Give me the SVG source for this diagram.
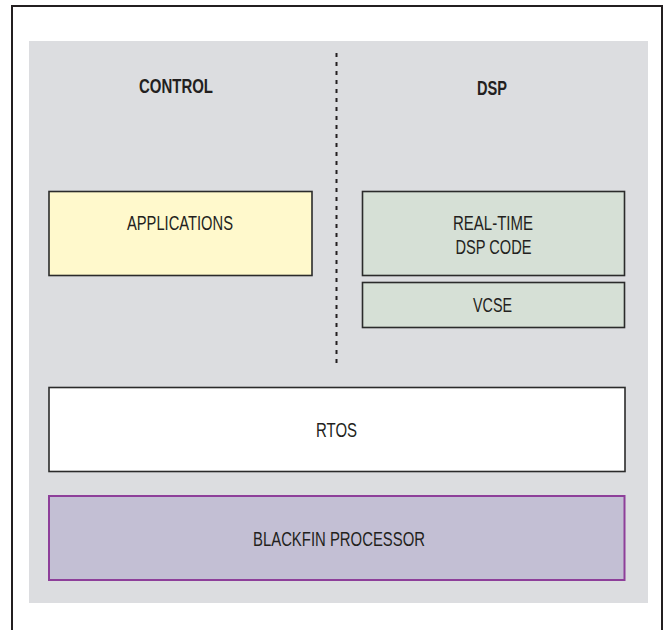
<svg xmlns="http://www.w3.org/2000/svg" width="668" height="630" viewBox="0 0 668 630">
  <style>
    .lbl { font-family: "Liberation Sans Narrow", "Liberation Sans", Arial, sans-serif; font-size: 20px; fill: #231f20; text-anchor: middle; }
    .hdr { font-weight: bold; }
    .box { stroke: #2b2b2b; stroke-width: 1.6; }
  </style>
  <rect x="0" y="0" width="668" height="630" fill="#ffffff"/>
  <rect x="12" y="6" width="650" height="640" fill="#ffffff" stroke="#231f20" stroke-width="2"/>
  <rect x="29" y="41" width="619" height="562" fill="#dcdde0"/>

  <g id="connectors">
    <line x1="336.5" y1="53" x2="336.5" y2="368" stroke="#231f20" stroke-width="2" stroke-dasharray="4 5"/>
  </g>

  <g id="control-header">
    <text class="lbl hdr" x="176" y="93" textLength="74" lengthAdjust="spacingAndGlyphs">CONTROL</text>
  </g>
  <g id="dsp-header">
    <text class="lbl hdr" x="492" y="95" textLength="30" lengthAdjust="spacingAndGlyphs">DSP</text>
  </g>

  <g id="applications">
    <rect class="box" x="49" y="191.5" width="263" height="84" fill="#fff9cc"/>
    <text class="lbl" x="180" y="230" textLength="106" lengthAdjust="spacingAndGlyphs">APPLICATIONS</text>
  </g>

  <g id="realtime-dsp">
    <rect class="box" x="362.5" y="191.5" width="262" height="84" fill="#d6e0d6"/>
    <text class="lbl" x="493" y="230" textLength="80" lengthAdjust="spacingAndGlyphs">REAL-TIME</text>
    <text class="lbl" x="493.5" y="254" textLength="76" lengthAdjust="spacingAndGlyphs">DSP CODE</text>
  </g>

  <g id="vcse">
    <rect class="box" x="362.5" y="282.5" width="262" height="45" fill="#d6e0d6"/>
    <text class="lbl" x="492.5" y="311.5" textLength="39" lengthAdjust="spacingAndGlyphs">VCSE</text>
  </g>

  <g id="rtos">
    <rect class="box" x="49" y="387.5" width="576" height="84" fill="#ffffff"/>
    <text class="lbl" x="336.5" y="436.5" textLength="41" lengthAdjust="spacingAndGlyphs">RTOS</text>
  </g>

  <g id="blackfin">
    <rect x="49" y="496" width="575.5" height="84" fill="#c3bfd4" stroke="#8e3f9a" stroke-width="2"/>
    <text class="lbl" x="339" y="545.5" textLength="172" lengthAdjust="spacingAndGlyphs">BLACKFIN PROCESSOR</text>
  </g>
</svg>
